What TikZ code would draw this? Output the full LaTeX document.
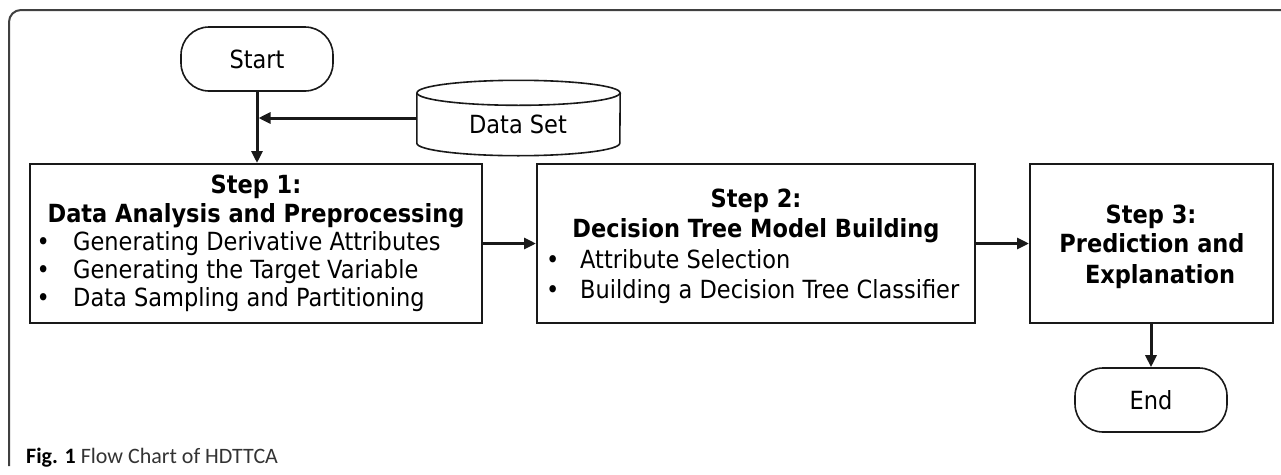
\documentclass[tikz,border=0pt]{standalone}
\usepackage{fontspec}
\setmainfont{DejaVu Sans}[FakeStretch=0.9]
\newfontfamily\capfont{Carlito}
\usetikzlibrary{arrows.meta}

\tikzset{
  stepbox/.style={draw=black!90,line width=2pt,inner sep=0pt,minimum height=159pt},
  term/.style={draw=black!90,line width=1.6pt,rounded corners=28pt,inner sep=0pt,
    minimum width=152pt,minimum height=64pt,font=\fontsize{25}{29}\selectfont},
  txt/.style={anchor=base,inner sep=0pt,font=\fontsize{25}{29}\selectfont},
  head/.style={txt,font=\fontsize{25}{29}\selectfont\bfseries},
  item/.style={txt,anchor=base west},
  flow/.style={->,line width=3pt,black!90}
}

\begin{document}
\begin{tikzpicture}[x=1pt,y=-1pt,>={Triangle[length=12pt,width=11pt]}]
\useasboundingbox (0,0) rectangle (1281,474);
% frame
\draw[line width=2pt,black!75,rounded corners=12pt] (9,466) -- (9,10) -- (1285,10);
% start and end
\node[term] (start) at (257,59) {Start};
\node[term] (end) at (1151,400) {End};
% data set
\node[inner sep=0pt,minimum width=203pt,minimum height=50pt] (data) at (518.5,118) {};
\draw[line width=1.6pt,black!90] (data.north west) -- (data.south west)
  arc[start angle=180,end angle=360,x radius=101.5pt,y radius=12.5pt] -- (data.north east);
\draw[line width=1.6pt,black!90] (data.north) ellipse[x radius=101.5pt,y radius=12.5pt];
\node[txt] (dstxt) at (518,133) {Data Set};
% step 1
\node[stepbox,minimum width=452pt] (s1) at (256,243.5) {};
\node[head] (s1a) at (256,193) {Step 1:};
\node[head] (s1b) at (256,222) {Data Analysis and Preprocessing};
\foreach \t [count=\i] in {Generating Derivative Attributes,Generating the Target Variable,Data Sampling and Partitioning}{
  \node[item] (s1d\i) at (36.5,{222+28*\i}) {•};
  \node[item] (s1i\i) at (73,{222+28*\i}) {\t};}
% step 2
\node[stepbox,minimum width=438pt] (s2) at (756,243.5) {};
\node[head] (s2a) at (756,207) {Step 2:};
\node[head] (s2b) at (756,237) {Decision Tree Model Building};
\foreach \t [count=\i] in {Attribute Selection,Building a Decision Tree Classifier}{
  \node[item] (s2d\i) at (546,{238+30*\i}) {•};
  \node[item] (s2i\i) at (580,{238+30*\i}) {\t};}
% step 3
\node[stepbox,minimum width=243pt] (s3) at (1151.5,243.5) {};
\node[head] (s3a) at (1151,223) {Step 3:};
\node[head] (s3b) at (1152,252) {Prediction and};
\node[head] (s3c) at (1160,283) {Explanation};
% arrows
\draw[flow] (start) -- (start |- s1.north);
\draw[flow] (data.west) -- ([xshift=1.5pt]data.west -| start);
\draw[flow] (s1.east) -- (s2.west);
\draw[flow] (s2.east) -- (s3.west);
\draw[flow] (s3.south -| end) -- (end.north);
% caption
\node[anchor=base west,inner sep=0pt,text=black!80] (cap) at (26,463)
  {\capfont\fontsize{22}{22}\selectfont\textbf{\color{black}Fig. 1} Flow Chart of HDTTCA};
\end{tikzpicture}
\end{document}
